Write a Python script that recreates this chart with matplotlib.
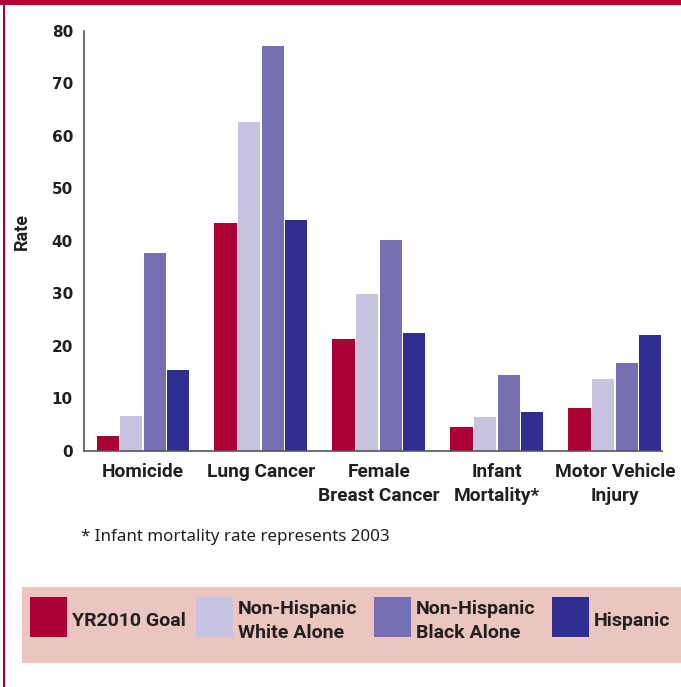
import matplotlib.pyplot as plt
from matplotlib.patches import Rectangle
import numpy as np

# data
categories = ["Homicide", "Lung Cancer", "Female\nBreast Cancer",
              "Infant\nMortality*", "Motor Vehicle\nInjury"]
series = ["YR2010 Goal", "Non-Hispanic\nWhite Alone",
          "Non-Hispanic\nBlack Alone", "Hispanic"]
goal = [2.8, 43.4, 21.3, 4.5, 8.1]
white = [6.6, 62.6, 29.9, 6.4, 13.7]
black = [37.6, 77.2, 40.1, 14.4, 16.7]
hispanic = [15.4, 43.9, 22.4, 7.4, 22.0]
yticks = [0, 10, 20, 30, 40, 50, 60, 70, 80]

colors = ["#AA0033", "#C7C4E2", "#7670B3", "#312E91"]
crimson = "#AA0033"
txt = "#231F20"
lab_font = ["Roboto", "DejaVu Sans"]

W, H = 681, 687
fig = plt.figure(figsize=(W / 100, H / 100), dpi=100)


def fx(x):
    return x / W


def fy(y):
    return 1 - y / H


# axes box in pixels: left 84, right 662, top 31, bottom 450.7
ax = fig.add_axes([fx(84), fy(450.7), fx(662 - 84), (450.7 - 31) / H])

x = np.arange(len(categories))
for i, vals in enumerate([goal, white, black, hispanic]):
    ax.bar(x + (i - 1.5) * 0.2, vals, width=0.188, color=colors[i],
           linewidth=0)

ax.set_xlim(-0.5, 4.4)
ax.set_ylim(0, 80)
ax.set_yticks(yticks)
ax.set_yticklabels([str(t) for t in yticks], fontsize=11, fontweight="bold",
                   color=txt, family="DejaVu Sans")
ax.set_xticks(x)
ax.set_xticklabels(categories, fontsize=13.8, fontweight="bold", color=txt,
                   family=lab_font, linespacing=1.45, va="top")
ax.tick_params(axis="y", length=0, pad=8)
ax.tick_params(axis="x", length=0, pad=8.5)
for s in ["top", "right"]:
    ax.spines[s].set_visible(False)
for s in ["left", "bottom"]:
    ax.spines[s].set_color("#555555")
    ax.spines[s].set_linewidth(1.2)

fig.text(fx(22), fy(231), "Rate", rotation=90, ha="center", va="center",
         fontsize=13, fontweight="bold", color=txt, family=lab_font)

# footnote
fig.text(fx(81), fy(537), "* Infant mortality rate represents 2003",
         ha="left", va="center", fontsize=12.2, color=txt, family="Noto Sans")

# frame: top band and left rule
fig.add_artist(Rectangle((0, fy(5)), 1, 5 / H, transform=fig.transFigure,
                         color=crimson, linewidth=0))
fig.add_artist(Rectangle((fx(3), 0), 2 / W, 1, transform=fig.transFigure,
                         color=crimson, linewidth=0))

# legend strip
fig.add_artist(Rectangle((fx(22), fy(663)), fx(681 - 22), (663 - 587) / H,
                         transform=fig.transFigure, color="#EBC5C0",
                         linewidth=0))
patch_x = [30, 196, 374, 552]
for i, name in enumerate(series):
    fig.add_artist(Rectangle((fx(patch_x[i]), fy(637)), fx(37), 40 / H,
                             transform=fig.transFigure, color=colors[i],
                             linewidth=0))
    fig.text(fx(patch_x[i] + 42), fy(621), name, ha="left", va="center",
             fontsize=14, fontweight="bold", color=txt, family=lab_font,
             linespacing=1.45)

fig.savefig("out.png", dpi=100)
